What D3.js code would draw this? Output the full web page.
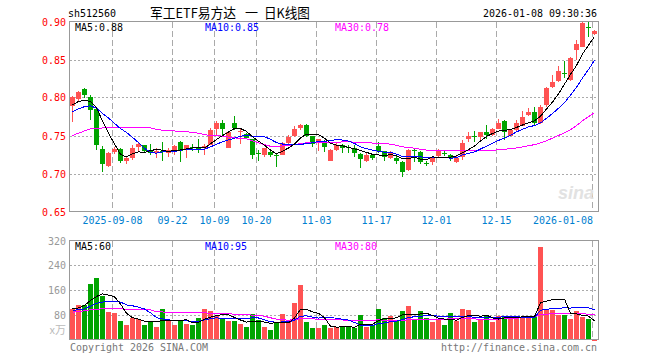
<!DOCTYPE html>
<html><head><meta charset="utf-8">
<script src="https://cdn.jsdelivr.net/npm/d3@7"></script>
<style>body{margin:0;background:#fff}svg{display:block}</style>
</head><body><svg id="c" width="660" height="360"></svg>
<script>
// ---------------- data ----------------
const dates = [
 "2025-08-28","2025-08-29","2025-09-01","2025-09-02","2025-09-03","2025-09-04","2025-09-05",
 "2025-09-08","2025-09-09","2025-09-10","2025-09-11","2025-09-12",
 "2025-09-15","2025-09-16","2025-09-17","2025-09-18","2025-09-19",
 "2025-09-22","2025-09-23","2025-09-24","2025-09-25","2025-09-26","2025-09-29","2025-09-30",
 "2025-10-09","2025-10-10","2025-10-13","2025-10-14","2025-10-15","2025-10-16","2025-10-17",
 "2025-10-20","2025-10-21","2025-10-22","2025-10-23","2025-10-24",
 "2025-10-27","2025-10-28","2025-10-29","2025-10-30","2025-10-31",
 "2025-11-03","2025-11-04","2025-11-05","2025-11-06","2025-11-07",
 "2025-11-10","2025-11-11","2025-11-12","2025-11-13","2025-11-14",
 "2025-11-17","2025-11-18","2025-11-19","2025-11-20","2025-11-21",
 "2025-11-24","2025-11-25","2025-11-26","2025-11-27","2025-11-28",
 "2025-12-01","2025-12-02","2025-12-03","2025-12-04","2025-12-05",
 "2025-12-08","2025-12-09","2025-12-10","2025-12-11","2025-12-12",
 "2025-12-15","2025-12-16","2025-12-17","2025-12-18","2025-12-19",
 "2025-12-22","2025-12-23","2025-12-24","2025-12-25","2025-12-26",
 "2025-12-29","2025-12-30","2025-12-31",
 "2026-01-05","2026-01-06","2026-01-07","2026-01-08"
];
const opens = [0.789,0.798,0.811,0.801,0.785,0.732,0.710,0.728,0.732,0.716,
 0.721,0.735,0.737,0.730,0.727,0.730,0.727,0.731,0.742,0.731,
 0.735,0.733,0.734,0.738,0.758,0.767,0.734,0.767,0.755,0.752,
 0.745,0.727,0.724,0.728,0.724,0.725,0.740,0.749,0.760,0.764,
 0.749,0.741,0.743,0.717,0.731,0.738,0.735,0.734,0.726,0.716,
 0.725,0.736,0.729,0.720,0.720,0.715,0.704,0.731,0.728,0.714,
 0.715,0.723,0.727,0.725,0.715,0.722,0.746,0.750,0.748,0.755,
 0.751,0.759,0.769,0.750,0.757,0.763,0.777,0.781,0.766,0.790,
 0.814,0.822,0.832,0.823,0.862,0.867,0.893,0.884];
const highs = [0.802,0.809,0.813,0.803,0.786,0.736,0.728,0.735,0.734,0.723,
 0.737,0.742,0.738,0.739,0.733,0.742,0.734,0.738,0.743,0.738,
 0.739,0.745,0.739,0.760,0.769,0.770,0.756,0.776,0.758,0.753,
 0.746,0.731,0.734,0.730,0.726,0.741,0.751,0.763,0.765,0.765,
 0.750,0.746,0.744,0.732,0.740,0.739,0.738,0.737,0.727,0.727,
 0.726,0.742,0.730,0.729,0.723,0.716,0.732,0.733,0.729,0.716,
 0.721,0.732,0.730,0.726,0.724,0.744,0.754,0.756,0.755,0.764,
 0.760,0.772,0.770,0.758,0.770,0.782,0.786,0.787,0.790,0.814,
 0.829,0.841,0.848,0.853,0.876,0.900,0.901,0.889];
const lows = [0.768,0.796,0.800,0.771,0.731,0.702,0.708,0.726,0.714,0.713,
 0.718,0.730,0.727,0.725,0.720,0.717,0.722,0.725,0.715,0.721,
 0.730,0.727,0.724,0.737,0.750,0.750,0.733,0.757,0.739,0.745,
 0.719,0.716,0.722,0.722,0.709,0.724,0.739,0.748,0.757,0.748,
 0.735,0.729,0.728,0.716,0.729,0.727,0.727,0.722,0.707,0.715,
 0.718,0.727,0.716,0.719,0.713,0.696,0.703,0.715,0.713,0.710,
 0.711,0.722,0.723,0.717,0.714,0.718,0.741,0.742,0.744,0.746,
 0.750,0.758,0.744,0.749,0.756,0.762,0.776,0.764,0.765,0.788,
 0.813,0.821,0.826,0.822,0.850,0.866,0.879,0.882];
const closes = [0.800,0.807,0.803,0.784,0.738,0.713,0.727,0.732,0.716,0.721,
 0.734,0.739,0.729,0.727,0.730,0.728,0.731,0.736,0.730,0.737,
 0.734,0.731,0.736,0.757,0.766,0.759,0.755,0.760,0.756,0.747,
 0.724,0.726,0.733,0.724,0.723,0.740,0.748,0.758,0.764,0.749,
 0.739,0.745,0.735,0.731,0.737,0.734,0.734,0.727,0.719,0.725,
 0.721,0.730,0.722,0.728,0.716,0.702,0.731,0.730,0.715,0.713,
 0.720,0.729,0.726,0.720,0.721,0.740,0.750,0.749,0.754,0.751,
 0.759,0.766,0.755,0.757,0.766,0.775,0.781,0.767,0.788,0.813,
 0.821,0.835,0.831,0.852,0.871,0.898,0.892,0.888];
const volumes = [99,110,110,178,198,142,88,85,61,48,
 70,67,48,56,42,99,61,48,60,51,
 47,70,99,93,75,70,60,59,51,42,
 83,63,42,31,56,81,61,117,175,56,
 38,37,46,37,42,42,40,38,80,42,
 46,100,69,76,60,92,107,63,92,70,
 56,63,48,85,60,100,94,56,66,78,
 56,75,73,71,75,73,75,73,300,100,
 94,80,80,67,92,72,67,2];
// moving-average values before a full window exists
const ma5Head  = [0.790,0.795,0.796,0.795];
const ma10Head = [0.781,0.785,0.788,0.789,0.786,0.779,0.773,0.766,0.759];
const ma30Head = [0.750,0.753,0.756,0.759,0.759,0.760,0.760,0.760,0.760,0.760,
 0.760,0.760,0.760,0.760,0.758,0.757,0.756,0.756,0.755,0.755,
 0.754,0.753,0.751,0.750,0.750,0.749,0.748,0.747,0.746];
const vma5Head  = [99,102,110,126];
const vma10Head = [94,96,99,108,117,121,124,124,121];
const vma30Head = [88,90,93,96,98,99,99,99,99,98,98,97,97,96,90,89,88,88,88,88,
 87,86,86,85,84,84,83,82,81];

const priceTicks = [0.90,0.85,0.80,0.75,0.70,0.65];
const volTicks = [320,240,160,80];
const tickDates  = ["2025-09-08","2025-09-22","2025-10-09","2025-10-20","2025-11-03","2025-11-17","2025-12-01","2025-12-15","2026-01-08"];
const tickLabels = ["2025-09-08","09-22","10-09","10-20","11-03","11-17","12-01","12-15","2026-01-08"];
const code = "sh512560";
const titleParts = ["军工ETF易方达","一","日K线图"];
const stamp = "2026-01-08 09:30:36";

// ---------------- drawing ----------------
const RED="#ff5353", GREEN="#00a400";
const svg = d3.select("#c");
const x = d3.scaleBand().domain(dates).range([70,598]).paddingInner(0).paddingOuter(0);
const yP = d3.scaleLinear().domain([0.65,0.90]).range([211.5,21.5]);
const yV = d3.scaleLinear().domain([0,320]).range([339.5,240.5]);

function ma(arr, n, head){
  return arr.map((v,i)=> i>=n-1 ? d3.mean(arr.slice(i-n+1,i+1)) : head[i]);
}
function mono(str, px, py, color, anchor){
  svg.append("text").attr("x",px).attr("y",py)
    .attr("font-family","DejaVu Sans Mono").attr("font-size",11)
    .attr("fill",color).attr("text-anchor",anchor||"start")
    .attr("textLength",str.length*6).attr("lengthAdjust","spacingAndGlyphs")
    .text(str);
}
const px = d => Math.round(x(d));

// header
mono(code, 68, 17, "#000");
[[titleParts[0],150,86],[titleParts[1],245,13],[titleParts[2],264,46]].forEach(([t,tx,tl])=>{
  svg.append("text").attr("x",tx).attr("y",18)
    .attr("font-family","'Noto Sans CJK SC'").attr("font-size",13.5)
    .attr("textLength",tl).attr("lengthAdjust","spacingAndGlyphs")
    .attr("fill","#000").text(t);
});
mono(stamp, 597, 17, "#000", "end");

// grids
const grid = svg.append("g").attr("shape-rendering","crispEdges");
[0.85,0.80,0.75,0.70].forEach(v=>{
  grid.append("line").attr("x1",70).attr("x2",598).attr("y1",Math.round(yP(v))+0.5).attr("y2",Math.round(yP(v))+0.5)
    .attr("stroke","#aaa").attr("stroke-dasharray","2,2");
});
[240,160,80].forEach(v=>{
  const yy = Math.round(yV(v))+0.5;
  grid.append("line").attr("x1",70).attr("x2",598).attr("y1",yy).attr("y2",yy)
    .attr("stroke","#aaa").attr("stroke-dasharray","2,2");
});
tickDates.forEach(d=>{
  const xx = px(d)+0.5;
  grid.append("line").attr("x1",xx).attr("x2",xx).attr("y1",22).attr("y2",211)
    .attr("stroke","#aaa").attr("stroke-dasharray","6,3");
  grid.append("line").attr("x1",xx).attr("x2",xx).attr("y1",241).attr("y2",339)
    .attr("stroke","#aaa").attr("stroke-dasharray","6,3");
});

// watermark
svg.append("text").attr("x",576).attr("y",199).attr("text-anchor","middle")
  .attr("font-family","'Liberation Sans'").attr("font-size",18).attr("font-style","italic").attr("font-weight","bold")
  .attr("fill","#e2e2e2").text("sina");

// candles
const idx = d3.range(dates.length);
const cg = svg.append("g").attr("shape-rendering","crispEdges");
idx.forEach(i=>{
  const d = dates[i], up = closes[i] >= opens[i], col = up?RED:GREEN;
  const xx = px(d);
  cg.append("line").attr("x1",xx+2.5).attr("x2",xx+2.5)
    .attr("y1",yP(highs[i])).attr("y2",yP(lows[i])).attr("stroke",col);
  const top = Math.round(yP(Math.max(opens[i],closes[i])));
  const bot = Math.round(yP(Math.min(opens[i],closes[i])));
  cg.append("rect").attr("x",xx).attr("width",5).attr("y",top).attr("height",Math.max(1,bot-top)).attr("fill",col);
});

// price MAs
const line = d3.line().x((v,i)=>x(dates[i])+2.5).y(v=>yP(v));
const pm5 = ma(closes,5,ma5Head), pm10 = ma(closes,10,ma10Head), pm30 = ma(closes,30,ma30Head);
[[pm30,"#ff00ff"],[pm10,"#0000ff"],[pm5,"#000"]].forEach(([s,c])=>{
  svg.append("path").attr("d",line(s)).attr("fill","none").attr("stroke",c).attr("stroke-width",1).attr("shape-rendering","crispEdges");
});

// volume bars
const vg = svg.append("g").attr("shape-rendering","crispEdges");
idx.forEach(i=>{
  const up = closes[i] >= opens[i];
  const top = Math.round(yV(volumes[i]));
  vg.append("rect").attr("x",px(dates[i])).attr("width",5).attr("y",top).attr("height",Math.max(1,339-top)+0.5)
    .attr("fill",up?RED:GREEN);
});
const vline = d3.line().x((v,i)=>x(dates[i])+2.5).y(v=>yV(v));
const vm5 = ma(volumes,5,vma5Head), vm10 = ma(volumes,10,vma10Head), vm30 = ma(volumes,30,vma30Head);
[[vm30,"#ff00ff"],[vm10,"#0000ff"],[vm5,"#000"]].forEach(([s,c])=>{
  svg.append("path").attr("d",vline(s)).attr("fill","none").attr("stroke",c).attr("stroke-width",1).attr("shape-rendering","crispEdges");
});

// borders
const bg = svg.append("g").attr("shape-rendering","crispEdges").attr("fill","none").attr("stroke","#999");
bg.append("rect").attr("x",69.5).attr("y",21.5).attr("width",529).attr("height",190);
bg.append("rect").attr("x",69.5).attr("y",240.5).attr("width",529).attr("height",99);

// MA labels
const last = dates.length-1;
mono("MA5:"+pm5[last].toFixed(2), 75, 31, "#000");
mono("MA10:"+pm10[last].toFixed(2), 205, 31, "#0000ff");
mono("MA30:"+pm30[last].toFixed(2), 335, 31, "#ff00ff");
mono("MA5:"+Math.round(vm5[last]), 75, 250, "#000");
mono("MA10:"+Math.round(vm10[last]), 205, 250, "#0000ff");
mono("MA30:"+Math.round(vm30[last]), 335, 250, "#ff00ff");

// y labels
priceTicks.forEach(v=> mono(v.toFixed(2), 66, Math.round(yP(v))+4, "#f00", "end"));
volTicks.forEach(v=> mono(String(v), 66, Math.round(yV(v))+4, "#999", "end"));
svg.append("text").attr("x",66).attr("y",334).attr("text-anchor","end")
  .attr("font-family","'Noto Sans CJK SC'").attr("font-size",11).attr("fill","#bbb").text("x万");

// date labels
tickDates.forEach((d,k)=>{
  const lastT = k===tickDates.length-1;
  mono(tickLabels[k], px(d)+(lastT?1:0.5), 224, "#0080d0", lastT?"end":"middle");
});

// footer
mono("Copyright 2026 SINA.COM", 70, 351, "#777");
mono("http://finance.sina.com.cn", 597, 351, "#777", "end");
</script></body></html>
